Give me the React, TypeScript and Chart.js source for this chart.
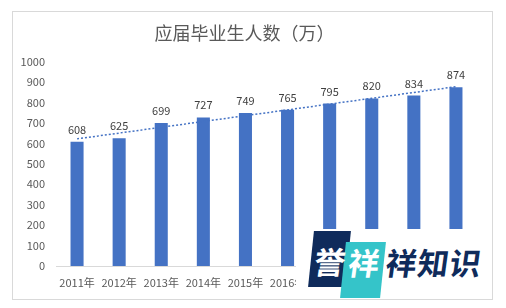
import React, { useEffect, useRef } from 'react';
import { Chart, registerables } from 'chart.js';

Chart.register(...registerables);

const chartTitle = '应届毕业生人数（万）';
const categories = ['2011年', '2012年', '2013年', '2014年', '2015年', '2016年', '2017年', '2018年', '2019年', '2020年'];
const graduates = [608, 625, 699, 727, 749, 765, 795, 820, 834, 874];
const yMin = 0;
const yMax = 1000;
const yStep = 100;
const watermarkMark = ['誉', '祥'];
const watermarkText = '祥知识';

const FONT = '"Noto Sans CJK SC", "Noto Sans", sans-serif';

function linearTrend(values: number[]): number[] {
  const n = values.length;
  const mx = (n - 1) / 2;
  const my = values.reduce((a, b) => a + b, 0) / n;
  let sxy = 0;
  let sxx = 0;
  values.forEach((v, i) => {
    sxy += (i - mx) * (v - my);
    sxx += (i - mx) * (i - mx);
  });
  const slope = sxy / sxx;
  return values.map((_, i) => my + slope * (i - mx));
}

const valueLabelPlugin = {
  id: 'valueLabels',
  afterDatasetsDraw(chart: any) {
    const meta = chart.getDatasetMeta(0);
    const ctx = chart.ctx;
    ctx.save();
    ctx.font = `11px ${FONT}`;
    ctx.fillStyle = '#404040';
    ctx.textAlign = 'center';
    ctx.textBaseline = 'alphabetic';
    meta.data.forEach((bar: any, i: number) => {
      ctx.fillText(String(graduates[i]), bar.x, bar.y - 8);
    });
    ctx.restore();
  },
};

export default function App() {
  const canvasRef = useRef<HTMLCanvasElement | null>(null);

  useEffect(() => {
    if (!canvasRef.current) return;
    const chart = new Chart(canvasRef.current, {
      type: 'bar',
      data: {
        labels: categories,
        datasets: [
          {
            type: 'bar',
            data: graduates,
            backgroundColor: '#4472C4',
            categoryPercentage: 0.62,
            barPercentage: 0.5,
            order: 1,
          } as any,
          {
            type: 'line',
            data: linearTrend(graduates),
            borderColor: '#4472C4',
            borderWidth: 1.5,
            borderDash: [2, 2],
            pointRadius: 0,
            fill: false,
            order: 0,
          } as any,
        ],
      },
      options: {
        animation: false,
        responsive: false,
        maintainAspectRatio: false,
        layout: { padding: { left: 12, right: 29, top: 0, bottom: 0 } },
        plugins: {
          legend: { display: false },
          tooltip: { enabled: false },
          title: {
            display: true,
            text: chartTitle,
            color: '#595959',
            font: { family: FONT, size: 18, weight: 'normal' },
            padding: { top: 22, bottom: 18 },
          },
        },
        scales: {
          x: {
            grid: { display: false, drawTicks: false },
            border: { display: true, color: '#d9d9d9', width: 1 },
            ticks: {
              color: '#595959',
              font: { family: FONT, size: 11 },
              padding: 10,
              maxRotation: 0,
              autoSkip: false,
            },
            afterFit(scale: any) {
              scale.height = 42;
            },
          },
          y: {
            min: yMin,
            max: yMax,
            grid: { display: false, drawTicks: false },
            border: { display: false },
            ticks: {
              stepSize: yStep,
              color: '#595959',
              font: { family: FONT, size: 11 },
              padding: 11,
              callback: (value: any) => String(value),
            },
            afterFit(scale: any) {
              scale.width = 44;
            },
          },
        },
      },
      plugins: [valueLabelPlugin],
    } as any);
    return () => chart.destroy();
  }, []);

  return (
    <div style={{ position: 'fixed', left: 0, top: 0, width: 506, height: 308, background: '#ffffff', overflow: 'hidden' }}>
      <canvas ref={canvasRef} width={506} height={308} style={{ position: 'absolute', left: 0, top: 0, width: 506, height: 308 }} />
      <div style={{ position: 'absolute', left: 12, top: 11, width: 479, height: 287, border: '1px solid #d9d9d9', pointerEvents: 'none' }} />
      <div style={{ position: 'absolute', left: 296, top: 229, width: 196, height: 69, background: '#ffffff' }}>
        <div style={{ position: 'absolute', left: 15, top: 2, width: 37, height: 56, background: '#0f2b5b', transform: 'skewX(-6deg)' }} />
        <div style={{ position: 'absolute', left: 47, top: 13, width: 40, height: 56, background: '#35c4c9', transform: 'skewX(-6deg)' }} />
        <div style={{ position: 'absolute', left: 17, top: 14, width: 34, textAlign: 'center', color: '#ffffff', font: `bold 31px/36px ${FONT}`, transform: 'skewX(-8deg)' }}>{watermarkMark[0]}</div>
        <div style={{ position: 'absolute', left: 51, top: 15, width: 34, textAlign: 'center', color: '#ffffff', font: `bold 31px/36px ${FONT}`, transform: 'skewX(-8deg)' }}>{watermarkMark[1]}</div>
        <div style={{ position: 'absolute', left: 90, top: 15, color: '#0f2b5b', font: `bold 31px/36px ${FONT}`, letterSpacing: 1, transform: 'skewX(-8deg)', whiteSpace: 'nowrap' }}>{watermarkText}</div>
      </div>
    </div>
  );
}
